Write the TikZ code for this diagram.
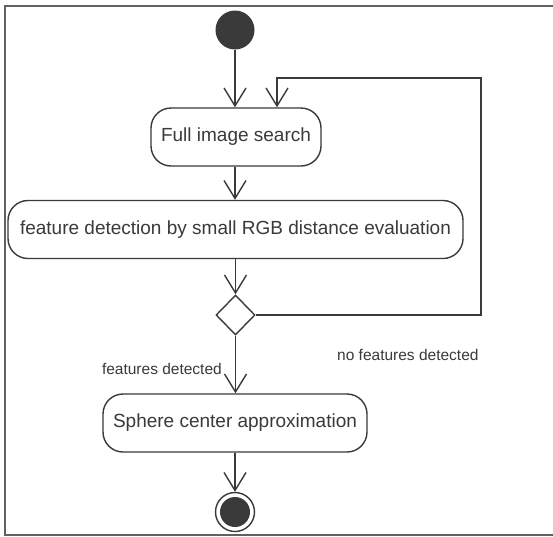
\documentclass[tikz,border=0pt]{standalone}
\usepackage{fontspec}
\setmainfont{Liberation Sans}
\usetikzlibrary{shapes.geometric,arrows.meta}
\definecolor{ink}{HTML}{3A3A3A}
\tikzset{
  actbox/.style={draw=ink, line width=1.4pt, rounded corners=20pt, minimum height=58pt, inner sep=0pt, font=\fontsize{19}{22}\selectfont, text=ink},
  flow/.style={draw=ink, line width=1.4pt, -{Straight Barb[length=18pt,width=22pt,line width=1.4pt]}},
  lbl/.style={font=\fontsize{15.5}{18}\selectfont, text=ink, inner sep=0pt},
  framed/.style={draw=ink!80, line width=1.4pt}
}
\begin{document}
\begin{tikzpicture}[x=1pt,y=-1pt]
\useasboundingbox (0,0) rectangle (553,536);
\fill[white] (0,0) rectangle (553,536);
\draw[framed] (553,6) -- (5,6) -- (5,535) -- (553,535);

\node[circle, fill=ink, minimum size=39pt, inner sep=0pt] (start) at (235,30) {};
\node[actbox, minimum width=170pt] (search) at (236,137) {Full image search};
\node[actbox, minimum width=455pt] (detect) at (235.5,229.5) {feature detection by small RGB distance evaluation};
\node[diamond, draw=ink, line width=1.4pt, minimum width=39pt, minimum height=40pt, inner sep=0pt] (dec) at (235.5,315) {};
\node[actbox, minimum width=264pt] (sphere) at (235,423) {Sphere center approximation};
\node[circle, draw=ink, line width=1.4pt, minimum size=39pt, inner sep=0pt] (end) at (235,512) {};
\node[circle, fill=ink, minimum size=30pt, inner sep=0pt] (endin) at (235,512) {};

\coordinate (rc) at (481,78);
\coordinate (lt) at (277,78);

\draw[flow] (start) -- (search.north -| start);
\draw[flow] (search.south -| start) -- (detect.north -| start);
\draw[flow] (detect.south -| dec) -- (dec.north);
\draw[flow] (dec.south) -- (sphere.north -| dec);
\draw[flow] (sphere.south -| end) -- (end.north);
\draw[flow] (dec.east) -| (rc) -- (lt) -- (lt |- search.north);

\node[lbl, anchor=east] (lfd) at (222,369) {features detected};
\node[lbl, anchor=west] (lnfd) at (337,355) {no features detected};
\end{tikzpicture}
\end{document}
